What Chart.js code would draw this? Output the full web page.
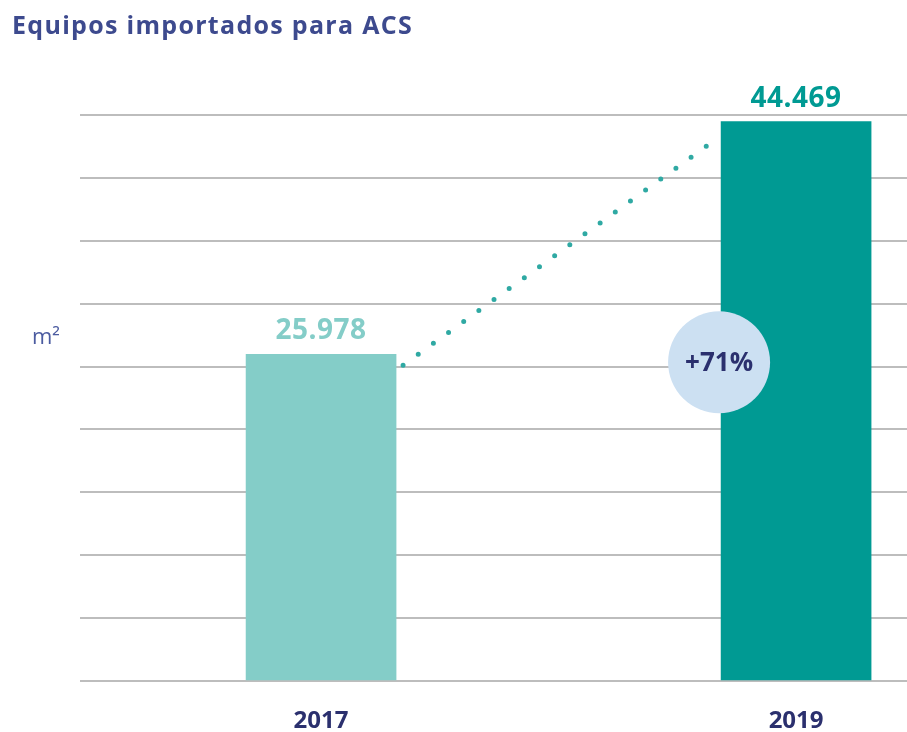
<!DOCTYPE html>
<html><head><meta charset="utf-8">
<script src="https://cdn.jsdelivr.net/npm/chart.js@4"></script>
<style>html,body{margin:0;padding:0;background:#fff;}#wrap{width:907px;height:732px;position:relative;}</style>
</head><body><div id="wrap"><canvas id="c" width="907" height="732"></canvas></div>
<script>
const title = 'Equipos importados para ACS';
const unitLabel = 'm²';
const categories = ['2017', '2019'];
const values = [25978, 44469];
const barColors = ['#84CDC8', '#009A93'];
const labelColors = ['#84CDC8', '#009A93'];
const yTicks = [0, 5000, 10000, 15000, 20000, 25000, 30000, 35000, 40000, 45000];

const fmt = v => v.toLocaleString('de-DE');
const pct = Math.round((values[1] / values[0] - 1) * 100);

const overlay = {
  id: 'overlay',
  beforeDatasetsDraw(chart) {
    const ctx = chart.ctx;
    const bars = chart.getDatasetMeta(0).data;
    const b0 = bars[0], b1 = bars[1];
    ctx.save();
    ctx.strokeStyle = '#2FA9A3';
    ctx.lineWidth = 5;
    ctx.lineCap = 'round';
    ctx.setLineDash([0, 18.7]);
    ctx.beginPath();
    ctx.moveTo(b0.x + b0.width / 2 + 7, b0.y + 11);
    ctx.lineTo(b1.x - b1.width / 2 - 3, b1.y + 16);
    ctx.stroke();
    ctx.restore();
  },
  afterDatasetsDraw(chart) {
    const ctx = chart.ctx;
    const bars = chart.getDatasetMeta(0).data;
    const ys = chart.scales.y;
    ctx.save();
    ctx.font = '700 28px "Open Sans"';
    ctx.textAlign = 'center';
    ctx.textBaseline = 'alphabetic';
    if ('letterSpacing' in ctx) ctx.letterSpacing = '0.5px';
    bars.forEach((b, i) => {
      ctx.fillStyle = labelColors[i];
      ctx.fillText(fmt(values[i]), b.x, b.y - 15);
    });
    if ('letterSpacing' in ctx) ctx.letterSpacing = '0px';
    const b1 = bars[1];
    const cx = b1.x - b1.width / 2 - 2;
    const cy = ys.getPixelForValue(values[0]) + 8;
    ctx.fillStyle = '#CCE0F2';
    ctx.beginPath();
    ctx.arc(cx, cy, 51, 0, Math.PI * 2);
    ctx.fill();
    ctx.fillStyle = '#2B306E';
    ctx.font = '700 26px "Open Sans"';
    ctx.textBaseline = 'middle';
    ctx.fillText('+' + pct + '%', cx, cy + 1);
    ctx.textAlign = 'left';
    ctx.textBaseline = 'alphabetic';
    ctx.fillStyle = '#3D4A8E';
    ctx.font = '700 25px "Open Sans"';
    if ('letterSpacing' in ctx) ctx.letterSpacing = '1.3px';
    ctx.fillText(title, 12, 34);
    if ('letterSpacing' in ctx) ctx.letterSpacing = '0px';
    ctx.fillStyle = '#4B5BA0';
    ctx.font = '400 22px "Open Sans"';
    ctx.fillText(unitLabel, 32, 344);
    ctx.restore();
  }
};

new Chart(document.getElementById('c'), {
  type: 'bar',
  data: {
    datasets: [{
      data: categories.map((c, i) => ({ x: Number(c), y: values[i] })),
      backgroundColor: barColors,
      barThickness: 150
    }]
  },
  options: {
    responsive: false,
    animation: false,
    layout: { padding: { left: 80, top: 115, right: 0, bottom: 0 } },
    plugins: { legend: { display: false }, tooltip: { enabled: false } },
    scales: {
      x: {
        type: 'linear',
        offset: false,
        min: 2015.985,
        max: 2019.467,
        afterBuildTicks: s => { s.ticks = categories.map(c => ({ value: Number(c) })); },
        afterFit: s => { s.height = 51; },
        grid: { display: false },
        border: { display: false },
        ticks: {
          callback: v => String(v),
          color: '#2B306E',
          font: { family: 'Open Sans', size: 24, weight: '700' },
          padding: 18,
          maxRotation: 0,
          autoSkip: false
        }
      },
      y: {
        min: 0,
        max: 45000,
        afterBuildTicks: s => { s.ticks = yTicks.map(v => ({ value: v })); },
        afterFit: s => { s.width = 0; },
        border: { display: false },
        grid: { color: '#BDBDBD', lineWidth: 2, drawTicks: false },
        ticks: { display: false }
      }
    }
  },
  plugins: [overlay]
});
</script>
</body></html>
